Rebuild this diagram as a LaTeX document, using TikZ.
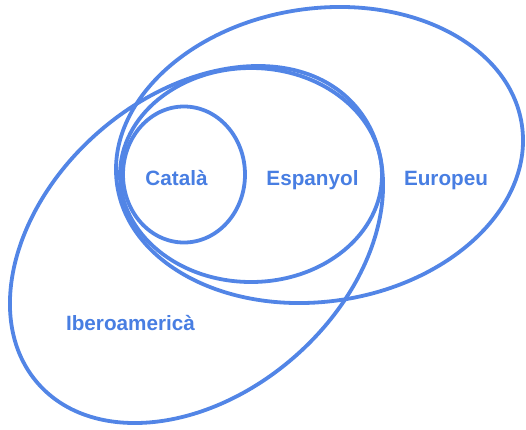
\documentclass[tikz,border=0pt]{standalone}
\usepackage{fontspec}
\setmainfont{Liberation Sans}
\definecolor{vennline}{RGB}{82,133,230}
\definecolor{venntext}{RGB}{72,126,226}
\begin{document}
\begin{tikzpicture}[x=1pt,y=-1pt,
  setline/.style={draw=vennline,line width=3.8pt},
  setlabel/.style={text=venntext,font=\fontsize{20.7}{24}\selectfont\bfseries,anchor=base,inner sep=0pt}]
\useasboundingbox (0,0) rectangle (526,429);
% Europeu
\draw[setline,rotate around={8.5:(319.5,155)}] (319.5,155) ellipse [x radius=204.6,y radius=146.5];
% Iberoamerica
\draw[setline,rotate around={41.2:(196.5,244.5)}] (196.5,244.5) ellipse [x radius=210.8,y radius=149.1];
% Espanyol
\draw[setline] (251,175) ellipse [x radius=131,y radius=107];
% Catala
\draw[setline] (184,174.5) ellipse [x radius=61,y radius=68];
\node[setlabel] (cat) at (176.5,185) {Català};
\node[setlabel] (esp) at (312.5,185) {Espanyol};
\node[setlabel] (eur) at (446,185) {Europeu};
\node[setlabel] (ibe) at (130.5,330) {Iberoamericà};
\end{tikzpicture}
\end{document}
